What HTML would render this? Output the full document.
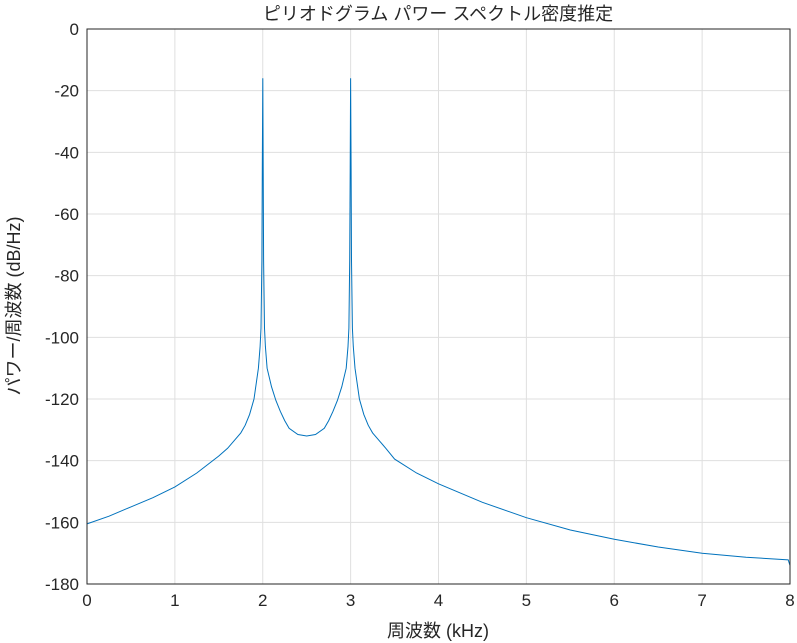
<!DOCTYPE html>
<html><head><meta charset="utf-8">
<style>
body{margin:0;background:#fff;}
svg{display:block;}
text{font-family:"Liberation Sans","Noto Sans CJK JP",sans-serif;fill:#262626;}
</style></head>
<body>
<svg id="chart" width="797" height="643">
<rect x="0" y="0" width="797" height="643" fill="#fff"/>
<g id="grid"></g>
<path id="curve" fill="none" stroke="#0072bd" stroke-width="1"/>
<rect x="87" y="29" width="703" height="555" fill="none" stroke="#262626" stroke-width="1"/>
<g id="ticks"></g>
<text x="438" y="20" text-anchor="middle" font-size="18">ピリオドグラム パワー スペクトル密度推定</text>
<text x="438" y="637" text-anchor="middle" font-size="18">周波数 (kHz)</text>
<text x="0" y="0" transform="translate(20,306) rotate(-90)" text-anchor="middle" font-size="18">パワー/周波数 (dB/Hz)</text>
</svg>
<script>
const xTicks=[0,1,2,3,4,5,6,7,8];
const yTicks=[0,-20,-40,-60,-80,-100,-120,-140,-160,-180];
const freqs=[0,0.25,0.5,0.75,1,1.25,1.5,1.6,1.75,1.8,1.85,1.9,1.95,1.97,1.98,1.99,1.995,2.0,2.005,2.01,2.02,2.03,2.05,2.1,2.15,2.2,2.25,2.3,2.4,2.5,2.6,2.7,2.75,2.8,2.85,2.9,2.95,2.97,2.98,2.99,2.995,3.0,3.005,3.01,3.02,3.03,3.05,3.1,3.15,3.2,3.25,3.4,3.5,3.75,4,4.5,5,5.5,6,6.5,7,7.5,7.98,8];
const power=[-160.5,-158,-155,-152,-148.5,-144,-138.5,-136,-131,-128.5,-125,-120,-110,-103,-97,-75,-45,-16,-45,-75,-97,-103,-110,-116,-120.5,-124,-127,-129.5,-131.5,-132,-131.5,-129.5,-127,-124,-120.5,-116,-110,-103,-97,-75,-45,-16,-45,-75,-97,-103,-110,-120,-125,-128.5,-131,-136,-139.5,-144,-147.5,-153.5,-158.5,-162.5,-165.5,-168,-170,-171.3,-172.2,-174];
const X0=87,X1=790,Y0=29,Y1=584;
const sx=f=>X0+(f-0)/(8-0)*(X1-X0);
const sy=v=>Y0+(0-v)/(180)*(Y1-Y0);
const ns="http://www.w3.org/2000/svg";
const grid=document.getElementById('grid'),ticks=document.getElementById('ticks');
xTicks.forEach(t=>{
 const l=document.createElementNS(ns,'line');
 
 
 l.setAttribute('x1',sx(t));l.setAttribute('x2',sx(t));l.setAttribute('y1',Y0);l.setAttribute('y2',Y1);
 l.setAttribute('stroke','#dfdfdf');grid.appendChild(l);
 const tx=document.createElementNS(ns,'text');
 
 
 tx.setAttribute('x',sx(t));tx.setAttribute('y',Y1+22);tx.setAttribute('text-anchor','middle');tx.setAttribute('font-size','17');
 tx.textContent=t;ticks.appendChild(tx);
});
yTicks.forEach(t=>{
 const l=document.createElementNS(ns,'line');
 
 
 l.setAttribute('x1',X0);l.setAttribute('x2',X1);l.setAttribute('y1',sy(t));l.setAttribute('y2',sy(t));
 l.setAttribute('stroke','#dfdfdf');grid.appendChild(l);
 const tx=document.createElementNS(ns,'text');
 
 
 tx.setAttribute('x',X0-8);tx.setAttribute('y',sy(t)+6);tx.setAttribute('text-anchor','end');tx.setAttribute('font-size','17');
 tx.textContent=t;ticks.appendChild(tx);
});
document.getElementById('curve').setAttribute('d',freqs.map((f,i)=>(i?'L':'M')+sx(f).toFixed(1)+','+sy(power[i]).toFixed(1)).join(''));
</script>
</body></html>
